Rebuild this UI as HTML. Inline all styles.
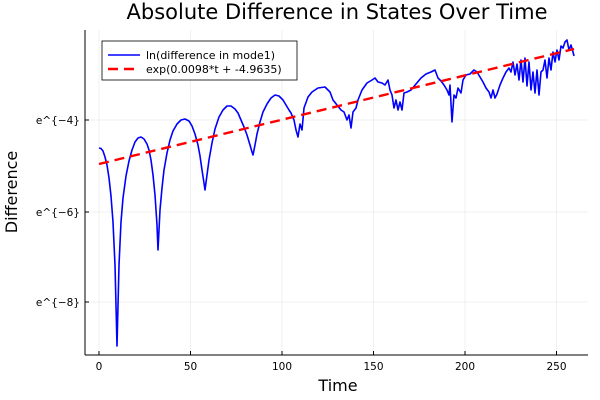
<!DOCTYPE html>
<html><head><meta charset="utf-8"><style>body{margin:0;background:#fff}svg{display:block}</style></head><body>
<svg width="600" height="400" xmlns="http://www.w3.org/2000/svg" font-family="'DejaVu Sans', 'Liberation Sans', sans-serif">
<rect width="600" height="400" fill="#fff"/>
<g stroke="#000" stroke-opacity="0.1" stroke-width="0.6">
<line x1="99" y1="30" x2="99" y2="355"/><line x1="190.5" y1="30" x2="190.5" y2="355"/><line x1="282" y1="30" x2="282" y2="355"/><line x1="373.5" y1="30" x2="373.5" y2="355"/><line x1="465" y1="30" x2="465" y2="355"/><line x1="556.5" y1="30" x2="556.5" y2="355"/>
<line x1="85" y1="120" x2="588" y2="120"/><line x1="85" y1="212" x2="588" y2="212"/><line x1="85" y1="302" x2="588" y2="302"/>
</g>
<g stroke="#000" stroke-width="1">
<line x1="85" y1="30" x2="85" y2="355"/><line x1="85" y1="355" x2="588" y2="355"/>
<line x1="99" y1="355" x2="99" y2="351"/><line x1="190.5" y1="355" x2="190.5" y2="351"/><line x1="282" y1="355" x2="282" y2="351"/><line x1="373.5" y1="355" x2="373.5" y2="351"/><line x1="465" y1="355" x2="465" y2="351"/><line x1="556.5" y1="355" x2="556.5" y2="351"/>
<line x1="85" y1="120" x2="89" y2="120"/><line x1="85" y1="212" x2="89" y2="212"/><line x1="85" y1="302" x2="89" y2="302"/>
</g>
<g font-size="10.5" fill="#000" text-anchor="middle">
<text x="99" y="370">0</text><text x="190.5" y="370">50</text><text x="282" y="370">100</text><text x="373.5" y="370">150</text><text x="465" y="370">200</text><text x="556.5" y="370">250</text>
</g>
<g font-size="10.5" fill="#000" text-anchor="end">
<text x="80" y="124">e^{−4}</text><text x="80" y="216">e^{−6}</text><text x="80" y="306">e^{−8}</text>
</g>
<text x="337" y="19" font-size="21" text-anchor="middle">Absolute Difference in States Over Time</text>
<text x="338" y="391" font-size="16" text-anchor="middle">Time</text>
<text transform="translate(17,192) rotate(-90)" font-size="16" text-anchor="middle">Difference</text>
<polyline fill="none" stroke="#0000ff" stroke-width="1.6" stroke-linejoin="round" points="99,148 101,148.5 103,151 105,157 107,165 109,178 111,196 113,222 115,265 117,346 119,265 121,222 123,198 126,176 129,161 132,150 135,142 138,138 141,137 144,139 147,144 149,150 151,160 153,175 155,195 157,225 158,250 160,210 162,188 164,170 167,153 170,140 173,131 177,124 181,120 185,119 189,121 192,126 195,134 198,145 200,156 202,170 204,183 205,190 207,175 209,160 212,143 215,129 219,117 223,110 227,106 231,106 235,109 238,113 241,120 244,127 247,135 250,145 252,152 253,155 255,145 257,134 260,122 263,112 267,104 271,98 275,95 279,96 283,100 286,105 289,110 291,113 294,120 296,130 298,137 300,124 302,130 304,108 308,97 312,92 318,88 325,87 330,92 333,100 337,105 341,110 344,112 347,120 349,115 351,128 353,112 356,108 358,100 362,90 367,83 372,80 375,78 378,82 382,83 385,85 388,80 390,90 392,95 394,108 396,100 398,110 400,102 402,110 404,93 407,92 411,90 416,84 421,78 426,74 431,72 435,70 438,78 441,81 444,85 447,90 449,95 450,85 452,122 454,95 456,98 458,88 461,93 463,80 466,75 470,74 474,70 477,72 480,77 483,82 486,88 489,92 491,98 493,90 495,98 497,94 500,85 503,78 506,72 509,68 511,72 513,62 515,75 517,64 519,80 521,60 523,82 525,58 527,86 529,62 531,90 533,72 535,93 537,70 539,95 541,72 543,70 545,60 547,78 549,58 551,70 553,52 555,62 557,50 559,60 561,46 563,48 565,42 567,40 569,50 571,45 573,52 574,56"/>
<line x1="99" y1="164" x2="574" y2="49" stroke="#ff0000" stroke-width="2.4" stroke-dasharray="10,6"/>
<rect x="102" y="41" width="195" height="39" fill="#fff" stroke="#000" stroke-width="0.8"/>
<line x1="108" y1="55" x2="140" y2="55" stroke="#0000ff" stroke-width="1.6"/>
<line x1="108" y1="69" x2="140" y2="69" stroke="#ff0000" stroke-width="2.4" stroke-dasharray="10,6"/>
<text x="146" y="59" font-size="11">ln(difference in mode1)</text>
<text x="146" y="73" font-size="11">exp(0.0098*t + -4.9635)</text>
</svg>
</body></html>
